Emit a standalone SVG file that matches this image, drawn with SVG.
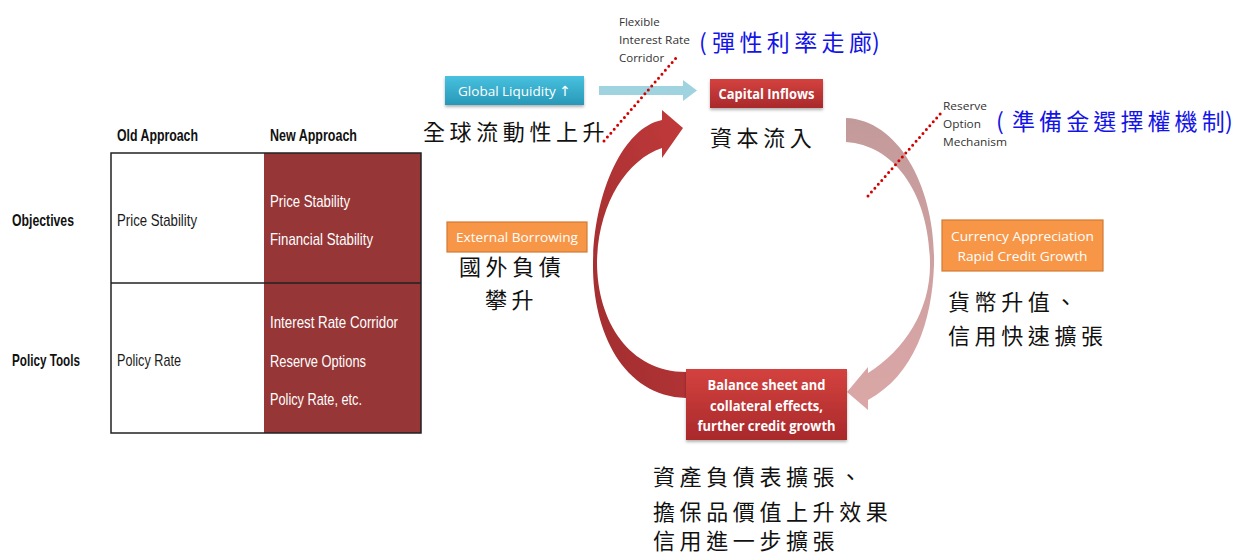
<svg xmlns="http://www.w3.org/2000/svg" width="1234" height="553" viewBox="0 0 1234 553">
  <style>
    .tbl { font-family: "Liberation Sans", Arial, sans-serif; font-size: 17px; fill: #1a1a1a; }
    .tblb { font-family: "Liberation Sans", Arial, sans-serif; font-size: 17px; font-weight: bold; fill: #111; }
    .tblw { font-family: "Liberation Sans", Arial, sans-serif; font-size: 17px; fill: #ffffff; }
    .box { font-family: "Open Sans", "DejaVu Sans", sans-serif; font-size: 13.5px; fill: #ffffff; text-anchor: middle; }
    .boxb { font-family: "Open Sans", "DejaVu Sans", sans-serif; font-size: 13.5px; font-weight: bold; fill: #ffffff; text-anchor: middle; }
    .note { font-family: "Open Sans", "DejaVu Sans", sans-serif; font-size: 11.5px; fill: #333333; }
    .zh { font-family: "Noto Sans CJK TC", "Noto Sans CJK SC", sans-serif; font-size: 22px; letter-spacing: 4.6px; fill: #111111; }
    .zhblue { font-family: "Noto Sans CJK TC", "Noto Sans CJK SC", sans-serif; font-size: 23px; fill: #1414e6; }
    .dots { fill: none; stroke: #d40000; stroke-width: 3; stroke-linecap: round; stroke-dasharray: 0 5.2; }
  </style>
  <defs>
    <linearGradient id="gTeal" x1="0" y1="0" x2="0" y2="1">
      <stop offset="0" stop-color="#48c1df"/>
      <stop offset="1" stop-color="#2898b8"/>
    </linearGradient>
    <linearGradient id="gRed" x1="0" y1="0" x2="0" y2="1">
      <stop offset="0" stop-color="#d4423f"/>
      <stop offset="1" stop-color="#a9292b"/>
    </linearGradient>
    <linearGradient id="gArrowL" x1="1" y1="0" x2="0" y2="1">
      <stop offset="0" stop-color="#c23a3b"/>
      <stop offset="1" stop-color="#9e2c2e"/>
    </linearGradient>
    <linearGradient id="gArrowR" x1="0" y1="0" x2="0" y2="1">
      <stop offset="0" stop-color="#c39a9a"/>
      <stop offset="1" stop-color="#dba7a7"/>
    </linearGradient>
    <filter id="shadow" x="-10%" y="-20%" width="120%" height="150%">
      <feDropShadow dx="0" dy="2" stdDeviation="1.5" flood-color="#000" flood-opacity="0.3"/>
    </filter>
  </defs>

  <rect width="1234" height="553" fill="#ffffff"/>

  <!-- comparison table -->
  <g id="table">
    <rect x="264" y="153" width="157" height="280" fill="#963636"/>
    <rect x="111" y="153" width="310" height="280" fill="none" stroke="#222" stroke-width="1.5"/>
    <line x1="111" y1="283" x2="421" y2="283" stroke="#222" stroke-width="1.5"/>
    <text class="tblb" x="117" y="141" textLength="81" lengthAdjust="spacingAndGlyphs">Old Approach</text>
    <text class="tblb" x="270" y="141" textLength="87" lengthAdjust="spacingAndGlyphs">New Approach</text>
    <text class="tblb" x="12" y="226" textLength="62" lengthAdjust="spacingAndGlyphs">Objectives</text>
    <text class="tblb" x="12" y="366" textLength="68" lengthAdjust="spacingAndGlyphs">Policy Tools</text>
    <text class="tbl" x="117" y="226" textLength="80" lengthAdjust="spacingAndGlyphs">Price Stability</text>
    <text class="tbl" x="117" y="366" textLength="64" lengthAdjust="spacingAndGlyphs">Policy Rate</text>
    <text class="tblw" x="270" y="207" textLength="80" lengthAdjust="spacingAndGlyphs">Price Stability</text>
    <text class="tblw" x="270" y="245" textLength="103" lengthAdjust="spacingAndGlyphs">Financial Stability</text>
    <text class="tblw" x="270" y="328" textLength="128" lengthAdjust="spacingAndGlyphs">Interest Rate Corridor</text>
    <text class="tblw" x="270" y="367" textLength="96" lengthAdjust="spacingAndGlyphs">Reserve Options</text>
    <text class="tblw" x="270" y="405" textLength="92" lengthAdjust="spacingAndGlyphs">Policy Rate, etc.</text>
  </g>

  <!-- connectors -->
  <g id="connectors">
    <!-- liquidity to inflows -->
    <path d="M599 86 L683 86 L683 80 L697 90.5 L683 101 L683 95 L599 95 Z" fill="#9fd3e0"/>
    <!-- external borrowing loop back to inflows -->
    <path d="M686 398 C622 396 592 330 593 262 C594 195 622 128 662 120 L662 110 L683 128 L662 158 L662 148 C626 160 598 205 597 262 C597 322 630 372 686 372 Z" fill="url(#gArrowL)"/>
    <!-- inflows to appreciation / credit growth -->
    <path d="M846 118 C900 120 936 190 934 265 C932 322 914 375 868 400 L868 410 L847 392 L868 367 L868 373 C905 350 930 310 930 265 C930 195 895 145 846 142 Z" fill="url(#gArrowR)"/>
    <!-- policy intervention markers -->
    <line class="dots" x1="604" y1="141" x2="676" y2="58"/>
    <line class="dots" x1="868" y1="196" x2="941" y2="113"/>
  </g>

  <g id="global-liquidity">
    <rect x="445" y="76" width="139" height="29" fill="url(#gTeal)" filter="url(#shadow)"/>
    <text class="box" x="514.5" y="95.5">Global Liquidity <tspan font-family="DejaVu Sans" font-size="14">↑</tspan></text>
    <text class="zh" x="423" y="140">全球流動性上升</text>
  </g>

  <g id="capital-inflows">
    <rect x="710" y="79" width="113" height="29" fill="url(#gRed)" filter="url(#shadow)"/>
    <text class="boxb" x="766.5" y="98.5" textLength="96" lengthAdjust="spacingAndGlyphs">Capital Inflows</text>
    <text class="zh" x="710" y="146">資本流入</text>
  </g>

  <g id="interest-corridor">
    <text class="note" x="619" y="26">Flexible</text>
    <text class="note" x="619" y="44" textLength="71" lengthAdjust="spacingAndGlyphs">Interest Rate</text>
    <text class="note" x="619" y="62">Corridor</text>
    <text class="zhblue" x="699 712 739.4 766.8 794.2 821.6 849 872" y="51">(彈性利率走廊)</text>
  </g>

  <g id="reserve-option">
    <text class="note" x="943" y="110" textLength="44" lengthAdjust="spacingAndGlyphs">Reserve</text>
    <text class="note" x="943" y="128" textLength="38" lengthAdjust="spacingAndGlyphs">Option</text>
    <text class="note" x="943" y="146" textLength="64" lengthAdjust="spacingAndGlyphs">Mechanism</text>
    <text class="zhblue" x="996 1012 1039.1 1066.2 1093.3 1120.4 1147.5 1174.6 1201.7 1225" y="130">(準備金選擇權機制)</text>
  </g>

  <g id="currency-appreciation">
    <rect x="942" y="220" width="161" height="51" fill="#f79646" stroke="#d27a34" stroke-width="1.2"/>
    <text class="box" x="1022.5" y="241" textLength="143" lengthAdjust="spacingAndGlyphs">Currency Appreciation</text>
    <text class="box" x="1022.5" y="261" textLength="130" lengthAdjust="spacingAndGlyphs">Rapid Credit Growth</text>
    <text class="zh" x="948" y="310">貨幣升值、</text>
    <text class="zh" x="948" y="344">信用快速擴張</text>
  </g>

  <g id="external-borrowing">
    <rect x="447" y="222" width="140" height="30" fill="#f79646" stroke="#d27a34" stroke-width="1.2"/>
    <text class="box" x="517" y="242" textLength="122" lengthAdjust="spacingAndGlyphs">External Borrowing</text>
    <text class="zh" x="459" y="275">國外負債</text>
    <text class="zh" x="485" y="308">攀升</text>
  </g>

  <g id="balance-sheet">
    <rect x="686" y="369" width="161" height="71" fill="url(#gRed)" filter="url(#shadow)"/>
    <text class="boxb" x="766.5" y="390" textLength="118" lengthAdjust="spacingAndGlyphs">Balance sheet and</text>
    <text class="boxb" x="766.5" y="411" textLength="113" lengthAdjust="spacingAndGlyphs">collateral effects,</text>
    <text class="boxb" x="766.5" y="431" textLength="138" lengthAdjust="spacingAndGlyphs">further credit growth</text>
    <text class="zh" x="653" y="485">資產負債表擴張、</text>
    <text class="zh" x="653" y="520">擔保品價值上升效果</text>
    <text class="zh" x="653" y="549">信用進一步擴張</text>
  </g>
</svg>
